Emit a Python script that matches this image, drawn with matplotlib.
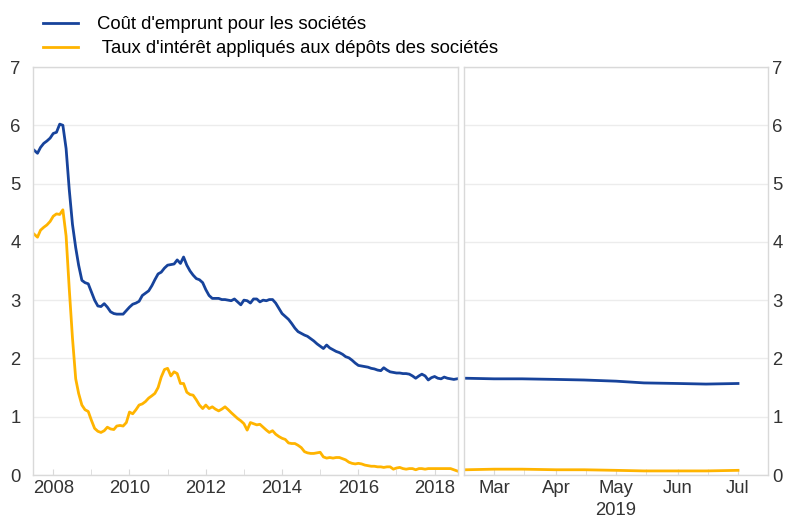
import matplotlib
matplotlib.use('Agg')
import matplotlib.pyplot as plt
import pandas as pd
from matplotlib.lines import Line2D

plt.rcParams['font.family'] = ['Liberation Sans', 'DejaVu Sans']

# Données mensuelles, janvier 2008 -> février 2019 (%)
debut_mensuel = '2008-01-01'
cout_emprunt = [
    5.57, 5.52, 5.62, 5.69, 5.73, 5.78, 5.86, 5.88, 6.02, 6.00,
    5.60, 4.90, 4.30, 3.90, 3.60, 3.34, 3.30, 3.28, 3.14, 3.00,
    2.90, 2.89, 2.94, 2.88, 2.80, 2.77, 2.76, 2.76, 2.76, 2.82,
    2.88, 2.93, 2.95, 2.98, 3.08, 3.12, 3.16, 3.25, 3.35, 3.45,
    3.48, 3.55, 3.60, 3.61, 3.62, 3.69, 3.63, 3.74, 3.60, 3.50,
    3.43, 3.37, 3.35, 3.30, 3.18, 3.08, 3.03, 3.03, 3.03, 3.01,
    3.01, 3.00, 2.99, 3.02, 2.97, 2.92, 3.00, 2.99, 2.95, 3.02,
    3.02, 2.97, 3.00, 2.99, 3.01, 3.01, 2.95, 2.86, 2.77, 2.72,
    2.67, 2.60, 2.52, 2.46, 2.43, 2.40, 2.38, 2.34, 2.30, 2.25,
    2.21, 2.17, 2.23, 2.18, 2.15, 2.12, 2.10, 2.07, 2.03, 2.01,
    1.97, 1.92, 1.88, 1.87, 1.86, 1.85, 1.83, 1.82, 1.80, 1.79,
    1.84, 1.80, 1.77, 1.76, 1.75, 1.75, 1.74, 1.74, 1.73, 1.70,
    1.66, 1.70, 1.73, 1.70, 1.63, 1.67, 1.69, 1.66, 1.65, 1.68,
    1.66, 1.65, 1.64, 1.65,
]
taux_depots = [
    4.13, 4.08, 4.20, 4.25, 4.29, 4.35, 4.44, 4.48, 4.47, 4.55,
    4.10, 3.20, 2.35, 1.65, 1.40, 1.20, 1.12, 1.09, 0.94, 0.80,
    0.75, 0.73, 0.76, 0.82, 0.79, 0.78, 0.84, 0.85, 0.84, 0.90,
    1.08, 1.05, 1.12, 1.20, 1.22, 1.26, 1.32, 1.36, 1.40, 1.50,
    1.68, 1.81, 1.83, 1.70, 1.77, 1.74, 1.57, 1.57, 1.42, 1.38,
    1.37, 1.29, 1.20, 1.14, 1.20, 1.14, 1.17, 1.13, 1.10, 1.13,
    1.17, 1.12, 1.07, 1.02, 0.97, 0.93, 0.88, 0.77, 0.90, 0.88,
    0.86, 0.87, 0.82, 0.77, 0.73, 0.76, 0.70, 0.66, 0.63, 0.61,
    0.55, 0.54, 0.54, 0.51, 0.47, 0.40, 0.38, 0.37, 0.37, 0.38,
    0.39, 0.31, 0.29, 0.30, 0.29, 0.30, 0.30, 0.28, 0.26, 0.22,
    0.20, 0.19, 0.20, 0.19, 0.17, 0.16, 0.15, 0.15, 0.14, 0.14,
    0.13, 0.14, 0.14, 0.10, 0.12, 0.13, 0.11, 0.10, 0.11, 0.11,
    0.09, 0.11, 0.11, 0.10, 0.11, 0.11, 0.11, 0.11, 0.11, 0.11,
    0.11, 0.11, 0.09, 0.07,
]

# Données récentes 2019 (points semi-mensuels)
dates_2019 = ['2019-02-15', '2019-03-01', '2019-03-15', '2019-04-01', '2019-04-15',
              '2019-05-01', '2019-05-15', '2019-06-01', '2019-06-15', '2019-07-01']
cout_emprunt_2019 = [1.66, 1.65, 1.65, 1.64, 1.63, 1.61, 1.58, 1.57, 1.56, 1.57]
taux_depots_2019 = [0.09, 0.10, 0.10, 0.09, 0.09, 0.08, 0.07, 0.07, 0.07, 0.08]

labels = ["Coût d'emprunt pour les sociétés", " Taux d'intérêt appliqués aux dépôts des sociétés"]
mois_2019 = ['Mar', 'Apr', 'May', 'Jun', 'Jul']

bleu = '#17439b'
jaune = '#ffb400'
gris = '#d9d9d9'
fs = 13.3

fig = plt.figure(figsize=(7.9, 5.19), dpi=100)
ax1 = fig.add_axes([33/790, 44/519, 425/790, 408/519])
ax2 = fig.add_axes([464/790, 44/519, 304/790, 408/519])

dates = pd.date_range(debut_mensuel, periods=len(cout_emprunt), freq='MS')
ax1.plot(dates, cout_emprunt, color=bleu, lw=2.0)
ax1.plot(dates, taux_depots, color=jaune, lw=2.0)

d2019 = pd.to_datetime(dates_2019)
ax2.plot(d2019, cout_emprunt_2019, color=bleu, lw=2.0)
ax2.plot(d2019, taux_depots_2019, color=jaune, lw=2.0)

for ax in (ax1, ax2):
    ax.set_ylim(0, 7)
    ax.set_yticks(range(0, 8))
    ax.grid(axis='y', color='#ececec', lw=1.0)
    ax.set_axisbelow(True)
    for s in ax.spines.values():
        s.set_color(gris)
        s.set_linewidth(1.0)
    ax.tick_params(axis='both', labelsize=fs, colors='#333333', length=0)
    ax.tick_params(axis='x', which='both', color=gris, length=4, direction='in')

ax1.set_xlim(pd.Timestamp('2007-12-20'), pd.Timestamp('2019-02-10'))
ax1.set_xticks([pd.Timestamp(f'{a}-07-01') for a in range(2008, 2019, 2)])
ax1.set_xticklabels([str(a) for a in range(2008, 2019, 2)])
ax1.set_xticks([pd.Timestamp(f'{a}-07-01') for a in range(2009, 2019, 2)], minor=True)
ax1.tick_params(axis='y', pad=9)

ax2.set_xlim(pd.Timestamp('2019-02-14'), pd.Timestamp('2019-07-16'))
ax2.set_xticks(pd.date_range('2019-03-01', periods=len(mois_2019), freq='MS'))
ax2.set_xticklabels(mois_2019)
ax2.set_xticks(pd.to_datetime(['2019-03-16', '2019-04-16', '2019-05-16', '2019-06-16']), minor=True)
ax2.yaxis.tick_right()
ax2.tick_params(axis='y', pad=3)
ax2.text(pd.Timestamp('2019-05-01'), -0.47, '2019', ha='center', va='top',
         fontsize=fs, color='#333333')

handles = [Line2D([], [], color=bleu, lw=2.0), Line2D([], [], color=jaune, lw=2.0)]
fig.legend(handles, labels, loc='upper left', bbox_to_anchor=(36/790, 1 - 9/519),
           frameon=False, fontsize=fs, handlelength=1.9, handletextpad=1.0,
           labelspacing=0.36, borderaxespad=0)

fig.savefig('out.png', dpi=100)
